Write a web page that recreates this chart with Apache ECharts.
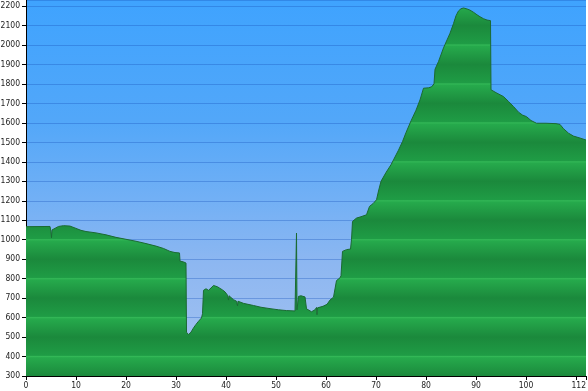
<!DOCTYPE html>
<html><head><meta charset="utf-8">
<script src="https://cdn.jsdelivr.net/npm/echarts@6/dist/echarts.min.js"></script>
<style>html,body{margin:0;padding:0;background:#fff}#c{width:588px;height:391px}</style>
</head><body><div id="c"></div>
<script>
var km = [0,4.8,5.0,5.1,5.2,5.5,6.5,7.5,8.8,10.0,11.0,12,14,16,18,20,22,24,26,27.5,28.8,29.8,30.7,30.8,31.5,32.0,32.1,32.5,33,33.5,34,34.5,35.1,35.3,35.5,36,36.5,37,37.5,37.8,38.3,38.8,39.3,39.8,40.3,40.5,40.6,40.8,41.5,42.1,42.3,42.4,43.5,45.5,47,48.8,50.5,52.1,53.8,54.0,54.1,54.2,54.4,54.5,55.0,55.8,56.1,56.5,57.1,57.5,57.8,58.1,58.2,58.3,59.4,60.2,60.8,61.5,61.8,62.1,62.8,63.0,63.3,64.1,64.9,65.1,65.3,66.1,67.0,68.1,68.7,69.4,70.1,70.5,71,72,73,73.5,74.5,75.3,76,77,78,78.8,79.5,80.5,81.1,81.6,81.8,82.5,83.5,84.8,85.5,86,86.5,87,87.5,88.2,88.8,89.5,90.2,90.8,91.5,92.2,92.9,93.0,94,95.5,96.5,97.5,98.5,99.3,100.1,101,102.1,104,106,106.8,107.5,108.5,109.5,110.8,112];
var elevation = [1067,1068,1040,1010,1050,1058,1068,1072,1070,1058,1048,1042,1035,1025,1012,1002,992,980,967,955,940,934,932,890,886,880,525,513,525,547,565,581,598,620,740,748,740,752,765,755,758,750,742,732,715,690,712,702,692,684,660,684,673,662,653,646,640,636,634,636,1034,640,645,709,712,706,645,636,630,625,640,652,615,650,658,668,690,705,712,790,804,815,940,949,952,1000,1094,1111,1118,1128,1171,1185,1205,1250,1300,1345,1385,1410,1460,1504,1550,1610,1665,1718,1778,1780,1785,1800,1875,1915,1985,2060,2110,2150,2175,2186,2190,2185,2179,2168,2155,2145,2135,2128,2125,1770,1755,1735,1710,1684,1655,1640,1632,1612,1598,1598,1596,1592,1570,1547,1532,1522,1512];
var yMin = 300, yMax = 2231, yInterval = 100;
var xMin = 0, xMax = 112, xInterval = 10;
var xHiddenLabel = 110;

var gridTop = 0, gridBottom = 15, gridLeft = 26, gridRight = 2;
var H = 391 - gridTop - gridBottom;
function yPix(v){ return gridTop + (yMax - v) / (yMax - yMin) * H; }

// green banded fill (period 200 m)
var stops = [];
var canvasH = 391;
for (var h = 2300; h >= 200; h -= 100) {
  var p = yPix(h) / canvasH;
  var even = (h / 100) % 2 === 0;
  if (even) {
    stops.push({offset: Math.max(0, Math.min(1, p - 1.2/canvasH)), color: '#1f9c45'});
    stops.push({offset: Math.max(0, Math.min(1, p)), color: '#33b857'});
    stops.push({offset: Math.max(0, Math.min(1, p + 1.2/canvasH)), color: '#26aa4c'});
  } else {
    stops.push({offset: Math.max(0, Math.min(1, p)), color: '#1b893c'});
  }
}
stops.sort(function(a,b){return a.offset-b.offset;});
var greenFill = new echarts.graphic.LinearGradient(0, 0, 0, canvasH, stops, true);

var data = km.map(function(k, i){ return [k, elevation[i]]; });
var chart = echarts.init(document.getElementById('c'), null, {renderer: 'canvas'});
var lblFont = {fontFamily: 'DejaVu Sans Condensed', fontSize: 8.5, color: '#222'};
chart.setOption({
  animation: false,
  grid: {
    left: gridLeft, right: gridRight, top: gridTop, bottom: gridBottom,
    outerBoundsMode: 'none', containLabel: false,
    show: true, borderWidth: 0,
    backgroundColor: new echarts.graphic.LinearGradient(0, 0, 0, 1, [
      {offset: 0, color: '#3fa3fe'},
      {offset: 0.32, color: '#52a7f9'},
      {offset: 0.53, color: '#72b0f5'},
      {offset: 0.7, color: '#8db7f1'},
      {offset: 1, color: '#a6c3f0'}
    ])
  },
  xAxis: {
    type: 'value', min: xMin, max: xMax, interval: xInterval,
    axisLine: {show: true, onZero: false, lineStyle: {color: '#000', width: 1}},
    axisTick: {show: true, length: 4, lineStyle: {color: '#000'}},
    axisLabel: Object.assign({margin: 5, showMaxLabel: true, hideOverlap: false, alignMaxLabel: 'right',
      formatter: function(v){
        if (v === xHiddenLabel) return '';
        if (v === xMax) return '{last|' + v + '}';
        return String(v);
      },
      rich: {last: {fontFamily: 'DejaVu Sans Condensed', fontSize: 8.5, color: '#222', width: 16, align: 'right', padding: [0, 0, 0, 0]}}
    }, lblFont),
    splitLine: {show: false}
  },
  yAxis: {
    type: 'value', min: yMin, max: yMax, interval: yInterval,
    axisLine: {show: true, lineStyle: {color: '#000', width: 1}},
    axisTick: {show: true, length: 4, lineStyle: {color: '#000'}},
    axisLabel: Object.assign({margin: 6, showMaxLabel: false,
      formatter: function(v){ return String(v); }}, lblFont),
    splitLine: {show: true, lineStyle: {color: 'rgba(25,85,190,0.35)', width: 1}}
  },
  series: [{
    type: 'line', data: data, symbol: 'none', smooth: false,
    lineStyle: {color: '#1b6a32', width: 1},
    areaStyle: {origin: 'start', color: greenFill, opacity: 1}
  }]
});
</script></body></html>
